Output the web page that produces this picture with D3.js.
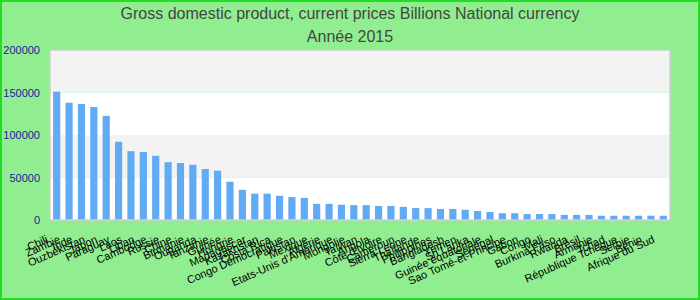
<!DOCTYPE html>
<html>
<head>
<meta charset="utf-8">
<script src="https://cdn.jsdelivr.net/npm/d3@7"></script>
<style>
  body { margin: 0; background: #90ee90; }
  svg { display: block; }
</style>
</head>
<body>
<div id="chart"></div>
<script>

var titleLines = ["Gross domestic product, current prices Billions National currency", "Année 2015"];

var countries = ["Chili", "Zambie", "Inde", "Ouzbékistan", "Japon", "Paraguay", "Laos", "Liban",
    "Cambodge", "Russie", "Chine", "Birmanie", "Ouganda", "Tanzanie", "Guinée", "Hongrie",
    "Madagascar", "Kazakhstan", "Costa Rica", "Congo Démocratique", "Pakistan", "Mexique",
    "Algérie", "Etats-Unis d'Amérique", "Mongolie", "Taïwan", "Angola", "Côte d'Ivoire",
    "Cameroun", "Sierra Leone", "Thaïlande", "Philippines", "Bangladesh", "Yémen", "Sri Lanka",
    "Guinée équatoriale", "Sénégal", "Sao Tomé-et-Principe", "Gabon", "Congo", "Mali",
    "Burkina Faso", "Rwanda", "Brésil", "Arménie", "Tchad", "République Tchèque", "Serbie",
    "Bénin", "Afrique du Sud"];

var gdp = [151000, 138000, 136500, 133000, 122500, 92000, 81000, 80000,
    75500, 68000, 67000, 65000, 60000, 58000, 45000, 35500,
    31000, 31000, 28500, 27000, 26000, 19000,
    19000, 18000, 17500, 17500, 16500, 16500,
    15500, 14000, 14000, 13000, 13000, 12000, 10500,
    9500, 8000, 8000, 7000, 7000, 7000,
    6000, 6000, 6000, 5000, 5000, 5000, 5000,
    5000, 5000];

var yTicks = [0, 50000, 100000, 150000, 200000];

var width = 700, height = 300;
var plotLeft = 50, plotRight = 670, plotTop = 50, plotBottom = 220;

var svg = d3.select("#chart").append("svg")
    .attr("width", width).attr("height", height);

// outer frame
svg.append("rect").attr("x", 1).attr("y", 1).attr("width", width - 2).attr("height", height - 2)
    .style("fill", "#90ee90").style("stroke", "#22dd22").style("stroke-width", 2);

var x = d3.scaleBand().domain(countries).range([plotLeft, plotRight]).paddingInner(0.42).paddingOuter(0.25);
var y = d3.scaleLinear().domain([0, 200000]).range([plotBottom, plotTop]);

// plot background with alternating bands
svg.selectAll("rect.band").data(d3.pairs(yTicks)).enter().append("rect").attr("class", "band")
    .attr("x", plotLeft)
    .attr("y", function (d) { return y(d[1]); })
    .attr("width", plotRight - plotLeft)
    .attr("height", function (d) { return y(d[0]) - y(d[1]); })
    .style("fill", function (d, i) { return i % 2 == 1 ? "#f3f3f3" : "#fff"; });

svg.selectAll("rect.bar").data(gdp).enter().append("rect").attr("class", "bar")
    .attr("x", function (d, i) { return x(countries[i]); })
    .attr("y", function (d) { return y(d); })
    .attr("width", x.bandwidth())
    .attr("height", function (d) { return y(0) - y(d); })
    .style("fill", "#61aaf4");

svg.append("rect").attr("x", plotLeft).attr("y", plotTop)
    .attr("width", plotRight - plotLeft).attr("height", plotBottom - plotTop)
    .style("fill", "none").style("stroke", "#cfcfcf").style("stroke-width", 1.5);

// y axis labels
var yAxis = d3.axisLeft(y).tickValues(yTicks).tickSize(0).tickPadding(10).tickFormat(d3.format("d"));
var yg = svg.append("g").attr("transform", "translate(" + plotLeft + ",0)").call(yAxis);
yg.select(".domain").remove();
yg.selectAll("text").style("fill", "#1c1c9c").style("font-family", "Liberation Sans, Arial, sans-serif").style("font-size", "11px");

// x axis labels, rotated
var xAxis = d3.axisBottom(x).tickSize(0).tickPadding(0);
var xg = svg.append("g").attr("transform", "translate(0," + plotBottom + ")").call(xAxis);
xg.select(".domain").remove();
xg.selectAll("text")
    .style("fill", "#000").style("font-family", "Liberation Sans, Arial, sans-serif").style("font-size", "11px")
    .style("text-anchor", "end")
    .attr("y", 0).attr("dy", 0)
    .attr("transform", "translate(-8,22) rotate(-24)");

// title
svg.selectAll("text.title").data(titleLines).enter().append("text").attr("class", "title")
    .attr("x", width / 2)
    .attr("y", function (d, i) { return 19 + i * 23; })
    .style("text-anchor", "middle")
    .style("fill", "#444")
    .style("font-family", "Liberation Sans Narrow, Arial Narrow, Liberation Sans, sans-serif")
    .style("font-size", "16px")
    .text(function (d) { return d; });

</script>
</body>
</html>
